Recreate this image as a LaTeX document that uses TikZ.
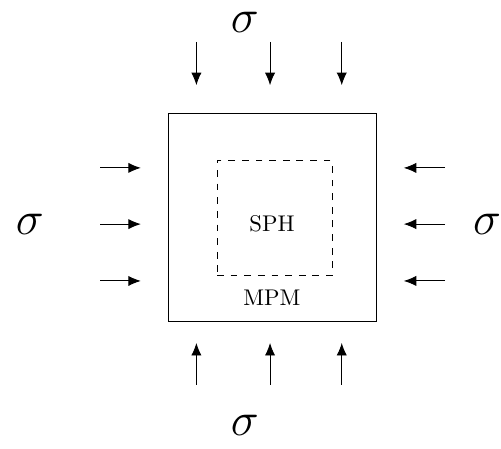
\documentclass[tikz,border=0pt]{standalone}
\usepackage{amsmath,amssymb}
\usepackage{xcolor}
\usepackage{tikz}
\usetikzlibrary{calc,positioning,arrows.meta}

\begin{document}
\begin{tikzpicture}[
  region/.style={draw=black, minimum width=3.22cm, minimum height=3.22cm},
  subregion/.style={draw=black, dashed, minimum width=1.78cm, minimum height=1.78cm},
  load/.style={-{Latex[length=5.5pt,width=4.5pt]}, thin},
  stress/.style={font=\huge, inner sep=0pt},
]
  \useasboundingbox (-4.21,-3.576) rectangle (3.545,3.359);

  % Domains
  \node[region] (mpm) at (0, 0) {};
  \node[subregion] (sph) at (0.04, -0.02) {};
  \node (sphlabel) at (0, -0.11) {SPH};
  \node (mpmlabel) at (0, -1.25) {MPM};

  % Stress labels
  \node[stress] (stop) at (-0.42, 3.02) {$\sigma$};
  \node[stress] (sbot) at (-0.42, -3.22) {$\sigma$};
  \node[stress] (sleft) at (-3.75, -0.11) {$\sigma$};
  \node[stress] (sright) at (3.33, -0.11) {$\sigma$};

  % Top loads
  \coordinate (t1a) at (-1.17, 2.71); \coordinate (t1b) at (-1.17, 2.04);
  \coordinate (t2a) at (-0.03, 2.71); \coordinate (t2b) at (-0.03, 2.04);
  \coordinate (t3a) at (1.08, 2.71);  \coordinate (t3b) at (1.08, 2.04);
  \draw[load] (t1a) -- (t1b);
  \draw[load] (t2a) -- (t2b);
  \draw[load] (t3a) -- (t3b);

  % Bottom loads
  \coordinate (b1a) at (-1.17, -2.60); \coordinate (b1b) at (-1.17, -1.95);
  \coordinate (b2a) at (-0.03, -2.60); \coordinate (b2b) at (-0.03, -1.95);
  \coordinate (b3a) at (1.08, -2.60);  \coordinate (b3b) at (1.08, -1.95);
  \draw[load] (b1a) -- (b1b);
  \draw[load] (b2a) -- (b2b);
  \draw[load] (b3a) -- (b3b);

  % Left loads
  \coordinate (l1a) at (-2.66, 0.76);  \coordinate (l1b) at (-2.03, 0.76);
  \coordinate (l2a) at (-2.66, -0.11); \coordinate (l2b) at (-2.03, -0.11);
  \coordinate (l3a) at (-2.66, -0.99); \coordinate (l3b) at (-2.03, -0.99);
  \draw[load] (l1a) -- (l1b);
  \draw[load] (l2a) -- (l2b);
  \draw[load] (l3a) -- (l3b);

  % Right loads
  \coordinate (r1a) at (2.68, 0.76);  \coordinate (r1b) at (2.04, 0.76);
  \coordinate (r2a) at (2.68, -0.11); \coordinate (r2b) at (2.04, -0.11);
  \coordinate (r3a) at (2.68, -0.99); \coordinate (r3b) at (2.04, -0.99);
  \draw[load] (r1a) -- (r1b);
  \draw[load] (r2a) -- (r2b);
  \draw[load] (r3a) -- (r3b);
\end{tikzpicture}
\end{document}
